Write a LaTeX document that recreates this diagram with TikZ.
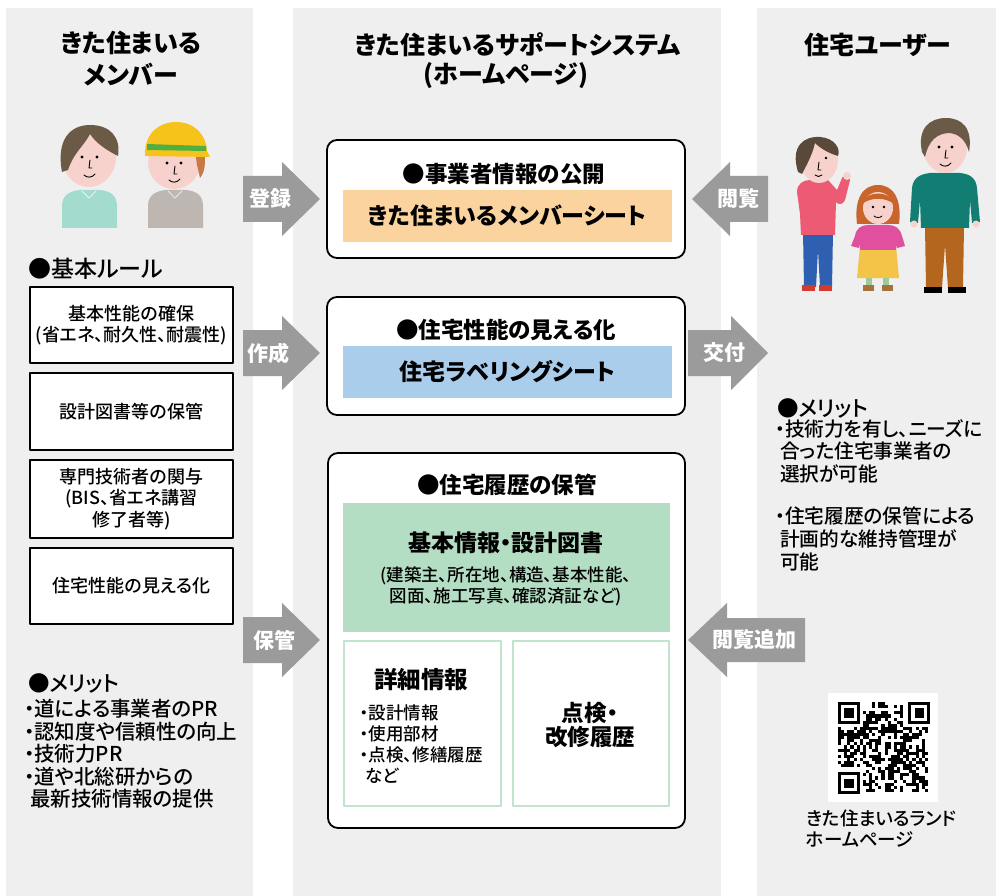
\documentclass[tikz,border=0pt]{standalone}
\usepackage{fontspec}
\setmainfont{Noto Sans CJK JP}[RawFeature=+palt]
\newfontfamily\medfont{Noto Sans CJK JP Medium}[RawFeature=+palt]
\definecolor{panelgray}{HTML}{EFEFEF}
\definecolor{arrowgray}{HTML}{9B9B9B}
\definecolor{sheetorange}{HTML}{FAD39F}
\definecolor{sheetblue}{HTML}{A9CDEB}
\definecolor{sheetgreen}{HTML}{B4DEC4}
\definecolor{subgreen}{HTML}{C2E4CF}
\definecolor{skin}{HTML}{F7D2CC}
\definecolor{hairbrown}{HTML}{6B5A46}
\definecolor{hairdark}{HTML}{5A4838}
\definecolor{hairginger}{HTML}{C8652D}
\definecolor{hairorange}{HTML}{C77A45}
\definecolor{shirtteal}{HTML}{A3DCCF}
\definecolor{shirtgray}{HTML}{BDB6B1}
\definecolor{helmetyellow}{HTML}{F6C31B}
\definecolor{bandgreen}{HTML}{4FB03F}
\definecolor{topred}{HTML}{EC5A73}
\definecolor{pantsblue}{HTML}{2F5FB0}
\definecolor{shoered}{HTML}{D33B2C}
\definecolor{topmagenta}{HTML}{E0509F}
\definecolor{skirtyellow}{HTML}{F4C449}
\definecolor{sockgreen}{HTML}{9CCB9A}
\definecolor{shoebrown}{HTML}{A8703A}
\definecolor{sweaterteal}{HTML}{127D72}
\definecolor{pantsbrown}{HTML}{B4651E}
% QR finder pattern, module size 3.1
\newcommand\qrfinder[2]{%
  \fill[black] (#1,#2) rectangle ++(21.7,21.7);
  \fill[white] ({#1+3.1},{#2+3.1}) rectangle ++(15.5,15.5);
  \fill[black] ({#1+6.2},{#2+6.2}) rectangle ++(9.3,9.3);}
\begin{document}
\begin{tikzpicture}[x=1pt,y=-1pt,
  panel/.style={fill=panelgray},
  mainbox/.style={draw=black,line width=1.8pt,rounded corners=10pt,fill=white,inner sep=0pt},
  sheet/.style={inner sep=0pt},
  rulebox/.style={draw=black,line width=1.6pt,fill=white,inner sep=0pt,minimum width=203pt},
  subbox/.style={draw=subgreen,line width=2.2pt,fill=white,inner sep=0pt,minimum height=165pt},
  blockarrow/.style={fill=arrowgray},
  arrowlabel/.style={text=white,inner sep=0pt,font=\fontsize{21}{24}\selectfont\bfseries},
  heading/.style={inner sep=0pt,align=center,font=\fontsize{25}{32}\selectfont\bfseries},
  boxtitle/.style={inner sep=0pt,font=\fontsize{22.5}{26}\selectfont\bfseries},
  sheettext/.style={inner sep=0pt,font=\fontsize{23}{26}\selectfont\bfseries},
  ruletext/.style={inner sep=0pt,align=center,font=\fontsize{18}{21.5}\medfont},
  listhead/.style={inner sep=0pt,anchor=west,font=\fontsize{21.5}{24}\medfont},
  listtext/.style={inner sep=0pt,anchor=north west,align=left,font=\fontsize{20.5}{22.6}\medfont},
  smalltext/.style={inner sep=0pt,align=left,font=\fontsize{17.5}{21}\medfont},
  line cap=round,line join=round]

\useasboundingbox (0,0) rectangle (996,896);
\fill[white] (0,0) rectangle (996,896);

% three column panels
\fill[panel] (6,8) rectangle (253,896);
\fill[panel] (293,8) rectangle (721,896);
\fill[panel] (757,8) rectangle (996,896);

% column headings
\node[heading] (memhead) at (131,59) {きた住まいる\\メンバー};
\node[heading] (syshead) at (518,45) {きた住まいるサポートシステム};
\node[heading] (syssub) at (506,76) {(ホームページ)};
\node[heading] (userhead) at (878,45) {住宅ユーザー};

% ---- members: two people ----
% left person
\fill[shirtteal] (62,228) -- (62,206) .. controls (62,195) and (70,191) .. (80,190) -- (100,190) .. controls (110,191) and (117,195) .. (117,206) -- (117,228) -- cycle;
\draw[white!70!shirtteal,line width=0.8pt] (82,191) -- (89,198) -- (96,191);
\fill[skin] (89,157) ellipse [x radius=27, y radius=30];
\fill[hairbrown] (62,172) .. controls (56,140) and (70,125) .. (90,125) .. controls (110,125) and (121,137) .. (118,156) .. controls (106,150) and (96,143) .. (90,134) .. controls (84,146) and (74,152) .. (68,170) -- cycle;
\fill (82,157) circle (1.6); \fill (97,157) circle (1.6);
\draw[line width=0.9pt] (90,160) -- (89,168) -- (92,168);
\draw[line width=0.9pt] (84,175) .. controls (87,178) and (92,178) .. (95,174);
% right person with helmet
\fill[shirtgray] (148,228) -- (148,206) .. controls (148,195) and (156,191) .. (166,190) -- (186,190) .. controls (196,191) and (203,195) .. (203,206) -- (203,228) -- cycle;
\draw[white!70!shirtgray,line width=0.8pt] (168,191) -- (175,198) -- (182,191);
\fill[skin] (174,163) ellipse [x radius=26, y radius=26];
\fill[hairorange] (195,150) -- (204,152) .. controls (206,162) and (205,172) .. (200,178) -- (197,165) -- cycle;
\fill[helmetyellow] (145,156) -- (145,152) .. controls (146,132) and (160,122) .. (176,122) .. controls (194,122) and (206,134) .. (207,151) -- (210,157) -- cycle;
\fill[bandgreen] (147,144) -- (206,146) -- (206,151) -- (147,150) -- cycle;
\fill (167,163) circle (1.6); \fill (181,163) circle (1.6);
\draw[line width=0.9pt] (175,166) -- (174,174) -- (177,174);
\draw[line width=0.9pt] (169,180) .. controls (172,183) and (177,183) .. (180,179);

% ---- users: family ----
% mother
\fill[pantsblue] (803,232) -- (833,232) -- (832,287) -- (820,287) -- (818,250) -- (816,287) -- (804,287) -- cycle;
\fill[shoered] (802,285) rectangle (815,291);
\fill[shoered] (819,285) rectangle (832,291);
\fill[topred] (797,192) .. controls (797,184) and (803,180) .. (810,180) -- (828,180) -- (837,190) -- (842,178) .. controls (844,173) and (851,174) .. (850,180) -- (845,200) .. controls (843,205) and (838,205) .. (836,202) -- (835,235) -- (801,235) -- (800,214) -- cycle;
\fill[skin] (847,176) circle (4);
\fill[skin] (819,160) ellipse [x radius=19, y radius=23];
\fill[hairdark] (798,172) .. controls (790,146) and (804,136) .. (820,137) .. controls (834,138) and (841,148) .. (838,156) .. controls (828,153) and (820,148) .. (815,143) .. controls (812,156) and (806,166) .. (802,174) -- cycle;
\fill (826,158) circle (1.4);
\draw[line width=0.9pt] (819,162) -- (818,170) -- (821,170);
\draw[line width=0.9pt] (815,175) .. controls (817,177) and (820,177) .. (822,175);
% child
\fill[sockgreen] (866,276) rectangle (872,286);
\fill[sockgreen] (883,276) rectangle (889,286);
\fill[shoebrown] (863,285) rectangle (874,291);
\fill[shoebrown] (882,285) rectangle (893,291);
\fill[skirtyellow] (860,246) -- (896,246) -- (899,278) -- (857,278) -- cycle;
\fill[hairginger] (857,224) .. controls (854,200) and (862,185) .. (878,185) .. controls (894,185) and (902,200) .. (899,224) -- cycle;
\fill[topmagenta] (855,236) .. controls (856,228) and (862,225) .. (868,225) -- (888,225) .. controls (895,225) and (900,228) .. (902,236) -- (905,246) -- (897,248) -- (896,244) -- (896,250) -- (860,250) -- (860,244) -- (859,248) -- (851,246) -- cycle;
\fill[skin] (878,208) ellipse [x radius=15, y radius=16];
\fill[hairginger] (862,204) .. controls (865,190) and (891,190) .. (894,204) .. controls (885,197) and (871,197) .. (862,204);
\fill (873,207) circle (1.3); \fill (884,207) circle (1.3);
\draw[line width=0.8pt] (874,216) .. controls (876,218) and (880,218) .. (882,216);
% father
\fill[pantsbrown] (925,226) -- (964,226) -- (963,288) -- (948,288) -- (945,245) -- (942,288) -- (926,288) -- cycle;
\fill[black] (924,287) rectangle (942,293);
\fill[black] (948,287) rectangle (966,293);
\fill[sweaterteal] (910,222) -- (912,188) .. controls (913,178) and (920,174) .. (930,173) -- (960,173) .. controls (970,174) and (976,178) .. (977,188) -- (980,222) -- (972,223) -- (970,200) -- (969,228) -- (921,228) -- (920,200) -- (918,223) -- cycle;
\fill[skin] (914,224) circle (3.5); \fill[skin] (976,224) circle (3.5);
\fill[skin] (945,147) ellipse [x radius=22, y radius=26];
\fill[hairbrown] (922,152) .. controls (917,128) and (930,118) .. (946,118) .. controls (962,118) and (973,128) .. (969,152) .. controls (966,140) and (958,133) .. (948,133) .. controls (938,134) and (929,139) .. (925,157) -- cycle;
\fill (939,147) circle (1.6); \fill (952,147) circle (1.6);
\draw[line width=0.9pt] (946,150) -- (945,158) -- (948,158);
\draw[line width=0.9pt] (940,164) .. controls (943,167) and (948,167) .. (951,163);

% ---- basic rules ----
\node[listhead,font=\fontsize{23}{26}\medfont] (rulehead) at (28,269) {●基本ルール};
\node[rulebox,minimum height=76pt] (rule1) at (131.5,325) {};
\node[ruletext] (rule1t) at (rule1) {基本性能の確保\\(省エネ、耐久性、耐震性)};
\node[rulebox,minimum height=77pt] (rule2) at (131.5,411.5) {};
\node[ruletext] (rule2t) at (rule2) {設計図書等の保管};
\node[rulebox,minimum height=78pt] (rule3) at (131.5,499) {};
\node[ruletext] (rule3t) at (rule3) {専門技術者の関与\\(BIS、省エネ講習\\修了者等)};
\node[rulebox,minimum height=76pt] (rule4) at (131.5,586) {};
\node[ruletext] (rule4t) at (rule4) {住宅性能の見える化};

% ---- members' merits ----
\node[listhead] (memmerit) at (28,683) {●メリット};
\node[listtext] (memlist) at (24,699) {・道による事業者のPR\\・認知度や信頼性の向上\\・技術力PR\\・道や北総研からの\\\hspace*{6pt}最新技術情報の提供};

% ---- support system boxes ----
\node[mainbox,minimum width=358pt,minimum height=118pt] (pub) at (506,199) {};
\node[boxtitle] (pubt) at (504,174) {●事業者情報の公開};
\node[sheet,fill=sheetorange,minimum width=329pt,minimum height=52pt] (memsheet) at (507.5,216) {};
\node[sheettext] (memsheett) at (memsheet) {きた住まいるメンバーシート};

\node[mainbox,minimum width=358pt,minimum height=118pt] (vis) at (506,356) {};
\node[boxtitle] (vist) at (506,330) {●住宅性能の見える化};
\node[sheet,fill=sheetblue,minimum width=329pt,minimum height=52pt] (label) at (507.5,372) {};
\node[sheettext] (labelt) at (label) {住宅ラベリングシート};

\node[mainbox,minimum width=357pt,minimum height=375pt] (hist) at (506.5,640.5) {};
\node[boxtitle] (histt) at (507,485) {●住宅履歴の保管};
\node[sheet,fill=sheetgreen,minimum width=327pt,minimum height=129pt] (basic) at (506.5,567.5) {};
\node[sheettext] (basict) at (506,543) {基本情報・設計図書};
\node[smalltext,align=center] (basicsub) at (506,586) {(建築主、所在地、構造、基本性能、\\図面、施工写真、確認済証など)};
\node[subbox,minimum width=157pt] (detail) at (422.5,723.5) {};
\node[boxtitle,font=\fontsize{23.5}{26}\selectfont\bfseries] (detailt) at (421,680) {詳細情報};
\node[smalltext,anchor=north west] (detaillist) at (360,705) {・設計情報\\・使用部材\\・点検、修繕履歴\\\hspace*{5pt}など};
\node[subbox,minimum width=156pt] (insp) at (591,723.5) {};
\node[boxtitle,align=center,font=\fontsize{22.5}{24.5}\selectfont\bfseries] (inspt) at (590,725) {点検・\\改修履歴};

% ---- users' merits ----
\node[listhead] (usermerit) at (777,408) {●メリット};
\node[listtext,font=\fontsize{19.7}{22.8}\medfont] (userlist1) at (775,419) {・技術力を有し、ニーズに\\\hspace*{5pt}合った住宅事業者の\\\hspace*{5pt}選択が可能};
\node[listtext,font=\fontsize{19.7}{22.8}\medfont] (userlist2) at (775,507) {・住宅履歴の保管による\\\hspace*{5pt}計画的な維持管理が\\\hspace*{5pt}可能};

% ---- QR code (29 x 29 modules) ----
\fill[white] (828,693) rectangle (938,802);
\pgfmathsetseed{20231}
\foreach \i in {0,...,28}{
  \foreach \j in {0,...,28}{
    \pgfmathtruncatemacro\qrfree{((\i>7)||(\j>7)) && ((\i<21)||(\j>7)) && ((\i>7)||(\j<21))}
    \pgfmathtruncatemacro\qrbit{random(0,1)}
    \ifnum\qrfree=1 \ifnum\qrbit=1
      \fill[black] ({838+\i*3.1},{702+\j*3.1}) rectangle ++(3.1,3.1);
    \fi\fi
  }
}
\qrfinder{838}{702}
\qrfinder{908.3}{702}
\qrfinder{838}{772.3}
\node[smalltext,anchor=north west,font=\fontsize{18.5}{21}\medfont] (qrcap) at (806,810) {きた住まいるランド\\ホームページ};

% ---- block arrows ----
% right-pointing: members -> system
\fill[blockarrow] (243,176) -- (282,176) -- (282,162) -- (320,199) -- (282,236) -- (282,222) -- (243,222) -- cycle;
\node[arrowlabel] (regl) at (270,199) {登録};
\fill[blockarrow] (243,330) -- (282,330) -- (282,316) -- (320,353) -- (282,390) -- (282,376) -- (243,376) -- cycle;
\node[arrowlabel] (makel) at (268,353) {作成};
\fill[blockarrow] (243,617) -- (282,617) -- (282,603) -- (320,640) -- (282,677) -- (282,663) -- (243,663) -- cycle;
\node[arrowlabel] (keepl) at (274,640) {保管};
% left-pointing: users -> system
\fill[blockarrow] (768,176) -- (730,176) -- (730,162) -- (692,199) -- (730,236) -- (730,222) -- (768,222) -- cycle;
\node[arrowlabel] (viewl) at (738,199) {閲覧};
% right-pointing: system -> users
\fill[blockarrow] (688,330) -- (731,330) -- (731,316) -- (768,353) -- (731,390) -- (731,376) -- (688,376) -- cycle;
\node[arrowlabel] (issuel) at (724,353) {交付};
\fill[blockarrow] (805,618) -- (727,618) -- (727,603) -- (688,640) -- (727,677) -- (727,662) -- (805,662) -- cycle;
\node[arrowlabel] (addl) at (754,640) {閲覧追加};
\end{tikzpicture}
\end{document}
